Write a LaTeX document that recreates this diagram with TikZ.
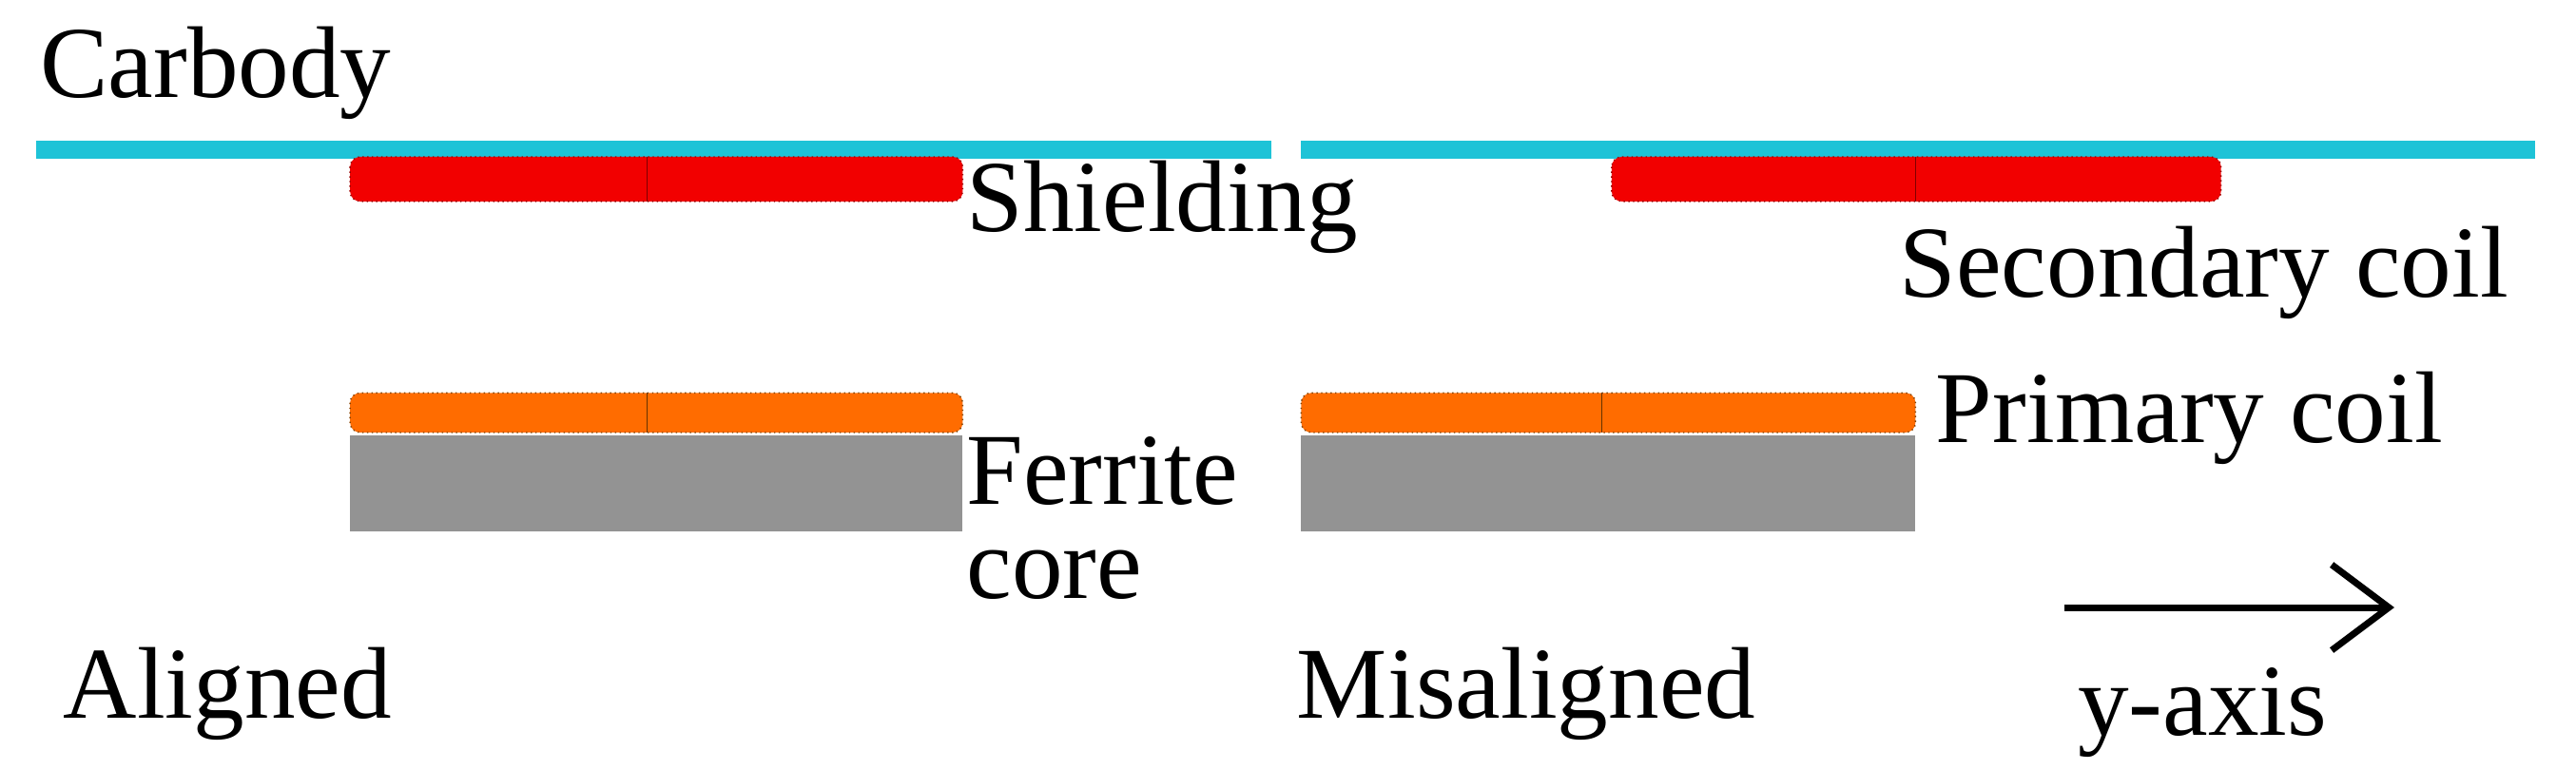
\documentclass[tikz,border=0pt]{standalone}
\usepackage{fontspec}
\usetikzlibrary{arrows.meta}
\setmainfont{Liberation Serif}
\definecolor{carb}{RGB}{30,195,215}
\begin{document}
\begin{tikzpicture}[x=0.017365cm,y=-0.017365cm,
 lbl/.style={anchor=north west,inner sep=0pt,font=\fontsize{30.5}{31}\selectfont},
 coil/.style={fill=red!95!black,draw=red!60!black,densely dotted},
 prim/.style={fill=orange!85!red,draw=orange!50!black,densely dotted},
 ferr/.style={fill=gray!85!white,draw=none}]
\useasboundingbox (0,0) rectangle (1560,466);
\fill[carb] (22,85) rectangle (770,96);
\fill[carb] (788,85) rectangle (1535,96);
\fill[coil,rounded corners=3] (212,95) rectangle (583,122);
\fill[coil,rounded corners=3] (976,95) rectangle (1345,122);
\draw[red!50!black] (392,95) -- (392,122);
\draw[red!50!black] (1160,95) -- (1160,122);
\fill[prim,rounded corners=3] (212,238) rectangle (583,262);
\fill[prim,rounded corners=3] (788,238) rectangle (1160,262);
\draw[orange!40!black] (392,238) -- (392,262);
\draw[orange!40!black] (970,238) -- (970,262);
\fill[ferr] (212,264) rectangle (583,322);
\fill[ferr] (788,264) rectangle (1160,322);
\node[lbl] (t1) at (24,16) {Carbody};
\node[lbl] (t2) at (585,97) {Shielding};
\node[lbl] (t3) at (1150,137) {Secondary coil};
\node[lbl] (t4) at (1172,225) {Primary coil};
\node[lbl] (t5) at (585,264) {Ferrite};
\node[lbl] (t6) at (585,333) {core};
\node[lbl] (t7) at (38,392) {Aligned};
\node[lbl] (t8) at (785,392) {Misaligned};
\node[lbl] (t9) at (1258,404) {y-axis};
\coordinate (a1) at (1250,368);
\coordinate (a2) at (1450,368);
\draw[line width=2pt,-{Straight Barb[length=0.6cm,width=0.9cm,line width=2pt]}] (a1) -- (a2);
\end{tikzpicture}
\end{document}
